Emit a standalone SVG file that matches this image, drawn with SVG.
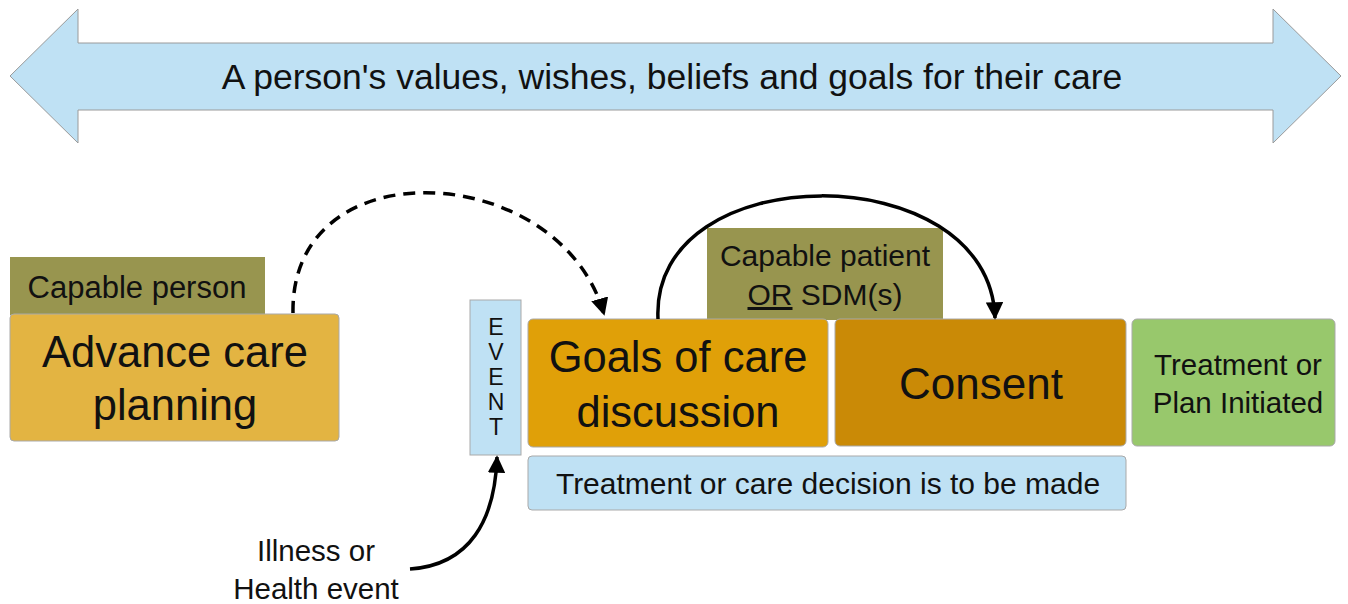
<svg xmlns="http://www.w3.org/2000/svg" width="1348" height="604" viewBox="0 0 1348 604">
<defs>
<style>
text{font-family:"Liberation Sans",Arial,sans-serif;fill:#111;text-anchor:middle}
.box{stroke:#a9a9a9;stroke-width:1}
.lbl{fill:#98954f}
.conn{fill:none;stroke:#000;stroke-width:3.5}
</style>
<marker id="ah" viewBox="0 0 10 10" refX="9" refY="5" markerWidth="5" markerHeight="5" orient="auto" markerUnits="strokeWidth">
<path d="M0,0 L10,5 L0,10 z" fill="#000"/>
</marker>
</defs>
<rect width="1348" height="604" fill="#fff"/>
<g id="banner">
<path d="M10,76 L78,9 L78,43 L1273,43 L1273,9 L1341,76 L1273,143 L1273,110 L78,110 L78,143 Z" fill="#bfe1f4" stroke="#9a9a9a" stroke-width="1"/>
<text x="672" y="89" font-size="35.5">A person's values, wishes, beliefs and goals for their care</text>
</g>
<g id="capable-person">
<rect x="10" y="257" width="255" height="58" class="lbl"/>
<text x="137" y="298" font-size="31">Capable person</text>
</g>
<g id="acp">
<rect x="10" y="314" width="329" height="127" rx="4" fill="#e3b442" class="box"/>
<text x="175" y="367" font-size="43.5">Advance care</text>
<text x="175" y="420" font-size="43.5">planning</text>
</g>
<g id="event">
<rect x="470" y="300" width="51" height="155" fill="#bfe1f4" class="box"/>
<text x="496" y="335" font-size="23">E</text>
<text x="496" y="360" font-size="23">V</text>
<text x="496" y="385" font-size="23">E</text>
<text x="496" y="410" font-size="23">N</text>
<text x="496" y="435" font-size="23">T</text>
</g>
<g id="capable-patient">
<rect x="707" y="228" width="236" height="92" class="lbl"/>
<text x="825" y="266" font-size="30">Capable patient</text>
<text x="825" y="305" font-size="30"><tspan text-decoration="underline">OR</tspan> SDM(s)</text>
</g>
<g id="goals">
<rect x="528" y="319" width="300" height="128" rx="5" fill="#e0a008" class="box"/>
<text x="678" y="372" font-size="43.5">Goals of care</text>
<text x="678" y="427" font-size="43.5">discussion</text>
</g>
<g id="consent">
<rect x="835" y="319" width="291" height="127" rx="5" fill="#ca8a06" class="box"/>
<text x="981" y="399" font-size="44">Consent</text>
</g>
<g id="initiated">
<rect x="1132" y="319" width="203" height="127" rx="5" fill="#98c86c" class="box"/>
<text x="1238" y="375" font-size="29.5">Treatment or</text>
<text x="1238" y="413" font-size="29.5">Plan Initiated</text>
</g>
<g id="decision">
<rect x="528" y="456" width="598" height="54" rx="4" fill="#bfe1f4" class="box"/>
<text x="828" y="494" font-size="30">Treatment or care decision is to be made</text>
</g>
<g id="illness">
<text x="316" y="561" font-size="29.5">Illness or</text>
<text x="316" y="599" font-size="29.5">Health event</text>
</g>
<g id="connectors">
<path class="conn" d="M293,313 C290,145 560,160 604,314" stroke-dasharray="12,8" marker-end="url(#ah)"/>
<path class="conn" d="M658,319 C650,155 990,155 995,318" marker-end="url(#ah)"/>
<path class="conn" d="M410,569 C470,565 495,520 497,457" stroke-width="3" marker-end="url(#ah)"/>
</g>
</svg>
